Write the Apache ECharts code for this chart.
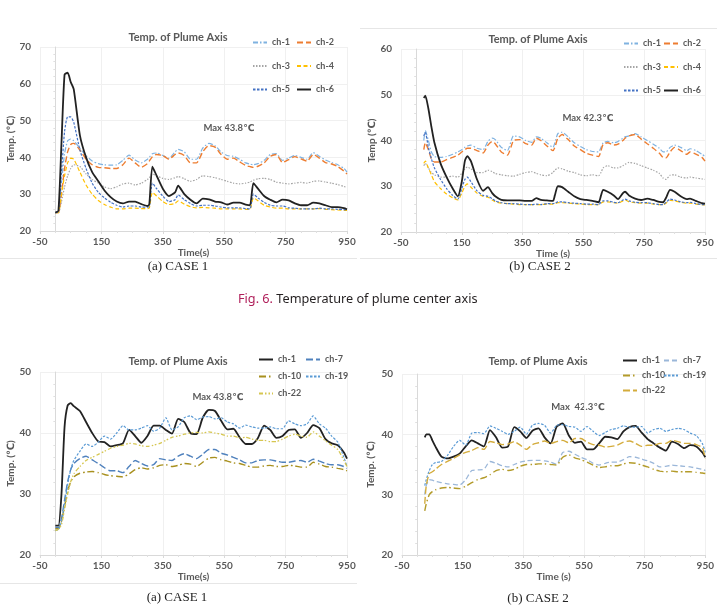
<!DOCTYPE html>
<html><head><meta charset="utf-8">
<script src="https://cdn.jsdelivr.net/npm/echarts@6/dist/echarts.min.js"></script>
<style>
html,body{margin:0;padding:0;background:#fff;}
#wrap{position:relative;width:717px;height:614px;overflow:hidden;background:#fff;}
.layer{position:absolute;left:0;top:0;width:717px;height:614px;}
.cap{position:absolute;font-family:'Liberation Serif','Times New Roman',serif;font-size:13px;color:#222;white-space:nowrap;transform:translate(-50%,-50%);}
.fig{position:absolute;font-family:'Noto Sans',sans-serif;font-size:12.7px;color:#231f20;white-space:nowrap;transform:translateY(-50%);}
.fig span{color:#b01f5a;}
.hl{position:absolute;height:1px;background:#e6e6e6;}
</style></head>
<body>
<div id="wrap">
  <div class="hl" style="left:360px;top:28px;width:357px;"></div>
  <div class="hl" style="left:0px;top:258px;width:357px;"></div>
  <div class="hl" style="left:360px;top:258px;width:357px;"></div>
  <div class="hl" style="left:0px;top:583px;width:357px;"></div>
  <div id="c1" class="layer"></div>
  <div id="c2" class="layer"></div>
  <div id="c3" class="layer"></div>
  <div id="c4" class="layer"></div>
  <div class="cap" style="left:178px;top:266px;">(a) CASE 1</div>
  <div class="cap" style="left:540px;top:266px;">(b) CASE 2</div>
  <div class="fig" style="left:238px;top:298px;"><span>Fig. 6.</span> Temperature of plume center axis</div>
  <div class="cap" style="left:177px;top:597px;">(a) CASE 1</div>
  <div class="cap" style="left:538px;top:598px;">(b) CASE 2</div>
</div>
<script>
// ---------- Chart (a) CASE 1, top ----------
const times1 = [0,10,20,30,40,50,60,80,100,120,140,160,180,200,220,240,260,280,300,306,316,330,350,370,390,400,420,440,460,480,500,520,540,560,580,600,620,634,645,660,680,700,720,740,760,780,800,820,840,860,880,900,920,940,950];
const a1_ch1 = [25,25.3,33,41,44.5,45,44.5,42.5,40.5,39,38.3,38,37.9,38,39.2,40.6,39.3,38.5,39.5,40,41,41.2,40.5,39.8,41.5,42.2,41.5,39.5,39.5,42.5,43.8,43.2,41.5,40.5,40.3,39.5,38.5,38.2,38,38.3,39.2,40.8,41,39.2,39.8,40.5,40,39.5,41.3,40.3,39.3,38.6,38,37,36];
const a1_ch2 = [25,25,30,37,41.5,43.5,43.8,42,39.5,38,37.3,37.2,37,37,38,39.8,38.5,37.3,38.3,39,40.2,40.8,40.5,39.5,40.8,41.2,40.5,38.5,38.5,41.5,43.2,42.8,40.8,39.5,39.8,38.8,37.8,37.5,37.3,37.6,38.5,40.3,40.8,38.6,39.4,40.2,39.6,39,40.8,39.8,38.6,38.2,37.5,36.3,35.5];
const a1_ch3 = [25,25,28,32,35,37,38,37.5,35.5,34,33,32,31.5,32,32.8,33,32.5,33,34,34.5,35.5,35,34.3,34,34.5,34.8,34.2,33.5,34,35,34.8,34.5,34,33.5,33,32.8,33,33.3,33.8,34.2,34.3,34,33.3,33,32.8,33,33.2,33,33.5,33.6,33.3,33,32.6,32.1,31.8];
const a1_ch4 = [25,25,30,35,38.5,39.8,39.5,36,32.5,30,28.3,27.2,26.5,26,26,26.2,26.2,26.1,26.1,26.2,30.5,29.5,28,27.2,27.5,28.2,27.3,26.6,26.3,26.4,26.3,26.2,26,26,26,26,25.9,25.9,29,28.2,27,26.5,26.2,26.2,26,26,26,26,26,26.1,25.9,25.8,25.7,25.6,25.6];
const a1_ch5 = [25,25.2,36,47,51,51,49.5,42,37,33,30.5,29,27.8,27,26.5,26.8,26.8,26.5,26.5,26.6,33,31.5,29.5,28,28.5,29.8,28.5,27.5,26.8,27,27,26.8,26.5,26.3,26.3,26.3,26.1,26,30,29,27.8,27,26.8,26.8,26.3,26.2,26,26,26,26.2,26,26,25.9,25.8,25.7];
const a1_ch6 = [25,25.5,44,62.5,63,60.5,58.5,46,40,36,33.5,31,29.2,28,27.5,28,28,27.3,26.8,27.2,37.5,35,31.5,29.5,30.5,32.3,30,28.5,27.5,28.8,28.6,28,27.8,27.2,27.7,27.7,27.2,27,33,31.5,29.5,28.5,27.8,28.5,28.3,27.5,27,27,27.7,27.5,27,26.5,26.5,26.2,25.9];

// ---------- Chart (b) CASE 2, top ----------
const times2 = [25,30,40,50,60,80,100,120,137,150,160,168,180,200,220,236,250,260,280,300,320,340,360,380,395,410,430,450,456,466,480,500,520,540,560,580,600,608,615,630,650,664,680,687,700,720,740,760,780,800,812,822,835,850,870,890,901,920,940,950];
const b1_ch1 = [40,42.2,40,37.5,36.5,36.3,36.5,37,37.5,38,38.5,38.8,39,38.3,38,39.8,40.5,40.2,38.5,37.8,41,40.8,40,39.6,40.8,40.5,39.5,38.5,39.5,41.5,41.8,40.8,39.5,38.7,38,37.6,37.5,38.5,39.5,39.8,39.5,39.8,40.5,40.8,41,41.5,40.8,40,39.2,38.3,37.5,37.5,38.5,39,38.5,37.8,38.2,37.8,37,36.5];
const b1_ch2 = [38,39.5,38,36,35.3,35.3,35.8,36.3,36.8,37.5,38,38.3,38.3,37.8,37.3,39,39.8,39.3,37.5,36.8,40,40.2,39.3,39,40.5,40,38.8,37.8,38.5,40.5,41.3,40.2,38.8,38,37.2,36.8,36.5,37.8,39.2,39.5,39,39.2,40,40.5,41,41.3,40.3,39.3,38.3,37.2,36.3,36.2,37.5,38.5,37.8,37,37.5,37,36.3,35.5];
const b1_ch3 = [34.5,35,34,33,32.5,32,32,32.2,32,32.8,33.8,34.2,33.8,33,33,33.5,33.2,32.8,32.5,32.3,32.2,32.6,33,33.2,32.8,32.5,32.3,33,33.5,34,33.8,33.3,33,32.5,32.3,32.5,32.3,33,34,34.5,34,34,34.5,34.8,35.2,35,34.5,34,33.5,32.8,31.8,31.5,32.4,32.5,32,31.8,32,31.8,31.6,31.5];
const b1_ch4 = [35,35.5,34,32.5,31,29.5,28.3,27.5,27,28.5,30,30.5,29.8,28.5,27.8,27.6,27,26.6,26.3,26.2,26.1,26,26,26,26,26,26.1,26.1,26.2,26.4,26.4,26.3,26.2,26.1,26,26,26,26.3,26.6,26.6,26.4,26.3,26.8,27,26.6,26.4,26.3,26.3,26.1,26,26,26.3,26.9,26.8,26.5,26.3,26.3,26.1,26,25.9];
const b1_ch5 = [41,41.8,38.5,36,34,31.5,29.5,28,27.2,29.5,31.5,32,31,29,28,27.8,27.3,26.8,26.4,26.2,26.2,26.1,26,26,26.1,26,26.2,26.2,26.3,26.6,26.6,26.4,26.3,26.2,26.1,26.1,26,26.5,26.8,26.8,26.5,26.4,27,27.2,26.8,26.5,26.4,26.4,26.2,26,26,26.5,27.2,27,26.6,26.4,26.5,26.2,26,26];
const b1_ch6 = [49.3,49.8,47,43,39.5,35,32,29.5,27.8,31,35.5,36.6,35.5,31.5,29,29.8,28.5,27.8,27,26.9,26.9,26.9,26.8,26.8,27.4,27,26.9,26.8,28,30,29.8,28.8,27.8,27.2,27,26.8,26.5,28,29.2,28.8,28,27.2,28.5,28.8,28,27.3,27,27.3,27,26.6,26.5,27.5,29.2,28.8,27.8,27.2,27.3,26.8,26.3,26.2];

// ---------- Chart (a) CASE 1, bottom ----------
const times3 = [0,10,20,30,40,50,60,80,100,120,140,160,180,200,220,240,260,280,300,320,340,360,380,400,420,440,460,480,500,520,540,560,580,600,620,640,660,680,700,720,740,760,780,800,820,840,860,880,900,920,940,950];
const a2_ch1 = [24.8,24.8,30,41,44.5,44.9,44.4,43.6,41.8,40,38.6,38.5,37.8,38,38.3,40.5,39.5,38.4,39.5,41.2,41.2,40.5,39.9,42.3,41.8,40,39.8,42.5,43.8,43.6,42,40.6,40.7,39.3,38.2,38.2,39.2,41.2,40.5,39.2,39.5,40.5,40.6,39.2,40,41.3,40.8,39,38.3,38,36.8,35.8];
const a2_ch7 = [24.5,24.5,26,29,32,34,35,35.8,36.2,35.6,35,34.3,33.8,33.8,33.5,34.5,35.5,35,34.6,34.8,35.8,35.6,35.5,36.2,36.6,36.2,35.8,36.5,37.3,37.3,36.7,36.4,36,35.6,35.1,35.1,35.5,35.6,35.6,35.4,35.2,35.2,35.4,35.5,35.2,35.7,35.4,35,34.8,34.8,34.5,34.2];
const a2_ch10 = [24.3,24.3,25.5,28,30.5,32,32.8,33.4,33.6,33.7,33.5,33.2,33,32.9,32.8,33.3,34,34.3,34.1,34.3,34.7,34.8,34.5,34.7,35,34.9,34.5,35.2,35.9,36,35.6,35.4,35.1,35,34.7,34.4,34.4,34.6,34.7,34.5,34.5,34.7,34.6,34.4,34.4,35.2,34.9,34.5,34.4,34.2,34,33.8];
const a2_ch19 = [24,24.2,25.5,28.5,31.5,34,35.5,37,38.2,37.8,38.5,39.5,39,40,41.2,40.5,40.5,40.8,41.2,40.3,40.8,42.5,40.5,41,42.5,42.8,42.2,42.6,42.7,42.3,42.5,41.8,41.5,40.8,41.3,41,40.8,40.8,41,40.7,40.7,42,41.5,41.2,41.5,42.8,41.5,40.8,39.5,38.5,36,34.5];
const a2_ch22 = [24,24.2,25,27.5,30,32,33.3,34.5,35.5,36,36.5,37,37.5,37.8,38,38.3,38.2,37.9,37.8,38,38.3,38.8,39.3,39.5,39.8,40,40.1,40,40.2,40,39.8,39.5,39.5,39.2,39.3,39,38.8,38.8,38.6,38.6,39,39.5,39.8,39.5,39.3,40.2,39.5,38.7,38,37.3,35.5,34.5];

// ---------- Chart (b) CASE 2, bottom ----------
const times4 = [25,30,40,50,60,80,100,120,140,160,180,200,220,240,260,280,300,320,340,360,380,400,420,440,460,480,500,520,540,560,580,600,620,640,660,680,700,720,740,760,780,800,820,840,860,880,900,920,940,950];
const b2_ch1 = [39.5,40,40,39,38,36.3,36,36.3,36.8,38,39,38.5,38,40.7,39.5,37.8,38,41.2,40.5,39.4,40.6,41,39.5,38.5,41.3,41.8,39.8,38.6,38.8,37.5,37.5,38.5,39.6,39.5,39.2,40.5,41.2,41.4,40.3,39.2,38.5,37.8,37.3,38.8,38.4,37.7,38.2,38,37,36.2];
const b2_ch7 = [30,31.5,32.5,32.4,32.2,32,31.8,31.7,31.6,32.5,34,34.1,34.2,35.5,35.2,34.8,34.6,35,35.4,35.6,35.7,35.7,35.6,35.4,35,37,37.2,36.7,36.2,35.8,35.2,34.9,35.2,35.4,35.4,35.8,36.3,36.2,35.9,35.6,35.2,34.6,34.7,34.9,34.8,34.7,34.6,34.4,34.2,34];
const b2_ch10 = [27.3,28.5,30,30.5,30.8,31.1,31.2,31.1,31,31.4,32,32.5,32.8,33.3,34,34.2,34,34.2,34.7,35,35,35.1,35.1,35,34.9,36.2,36.6,36.1,35.8,35.4,34.9,34.5,34.6,34.8,34.8,35.1,35.3,35.2,34.9,34.6,34.2,33.9,33.8,33.9,33.8,33.8,33.8,33.7,33.6,33.5];
const b2_ch19 = [31.5,32.5,34,35,35.3,35.5,36.5,38,39,38.2,40.2,40.3,40.1,41.4,41,40.5,40,40.5,41.2,40,41.5,41.8,41.5,40.2,41.5,41.6,41.3,41.2,40.5,41.3,40.5,39.8,40.3,40.8,41,41.4,41.2,41.2,41.3,40.2,40.8,41,40.5,40.8,41,40.8,40.2,39.8,38.5,37];
const b2_ch22 = [28.5,31.5,33.5,33.8,34.2,35,35.5,36,36.6,37,37.3,37.8,37.5,38.8,38.6,38.3,38.4,38.8,38.2,37.5,38.3,38.6,38.9,38.5,38.8,39,38.6,39.3,39.3,38.7,38.3,38.2,37.9,38,38.2,38.7,38.9,38.5,38,38.2,38.2,38.5,38.5,39,38.8,38.5,38.5,38.3,37.8,36];

// ---------- Axis ticks ----------
const xTicks = {min: -50, max: 950, interval: 200};
const yTicksTop1 = {min: 20, max: 70, interval: 10};
const yTicksTop2 = {min: 20, max: 60, interval: 10};
const yTicksBottom = {min: 20, max: 50, interval: 10};

// ---------- helpers ----------
const FONT = 'Lato, "Open Sans", "DejaVu Sans", sans-serif';
const GRAY = '#595959';
function pairs(times, vals) { return times.map((t, i) => [t, vals[i]]); }
function xAxis(name, nameGap) {
  return {type: 'value', min: xTicks.min, max: xTicks.max, interval: xTicks.interval,
    name: name, nameLocation: 'middle', nameGap: nameGap,
    nameTextStyle: {fontFamily: FONT, fontSize: 10, fontWeight: 'bold', color: GRAY},
    axisLine: {show: true, lineStyle: {color: '#d9d9d9'}},
    axisTick: {show: true, length: 3, lineStyle: {color: '#d9d9d9'}},
    minorTick: {show: true, splitNumber: 4, length: 2, lineStyle: {color: '#e0e0e0'}},
    splitLine: {show: true, lineStyle: {color: '#f0f0f0'}},
    axisLabel: {fontFamily: FONT, fontSize: 10, fontWeight: 'bold', color: GRAY, margin: 6}};
}
function yAxis(t, name, nameGap) {
  return {type: 'value', min: t.min, max: t.max, interval: t.interval,
    name: name, nameLocation: 'middle', nameGap: nameGap,
    nameTextStyle: {fontFamily: FONT, fontSize: 10, fontWeight: 'bold', color: GRAY},
    axisLine: {show: true, lineStyle: {color: '#d9d9d9'}},
    axisTick: {show: false},
    minorTick: {show: true, splitNumber: 5, length: 2, lineStyle: {color: '#e0e0e0'}},
    splitLine: {show: true, lineStyle: {color: '#f0f0f0'}},
    axisLabel: {fontFamily: FONT, fontSize: 10, fontWeight: 'bold', color: GRAY, margin: 9}};
}
function ser(name, data, color, type, width) {
  return {name: name, type: 'line', data: data, symbol: 'none', showSymbol: false,
    smooth: 0.2, lineStyle: {color: color, width: width, type: type}, itemStyle: {color: color},
    animation: false};
}
function legend(names, left, top, gap) {
  return {data: names, left: left, top: top, orient: 'vertical', itemWidth: 14, itemHeight: 10,
    itemGap: gap, padding: 0, selectedMode: false,
    itemStyle: {opacity: 0, borderWidth: 0},
    textStyle: {fontFamily: FONT, fontSize: 9, fontWeight: 'bold', color: GRAY}};
}
function txt(text, x, y, size) {
  return {type: 'text', x: x, y: y, silent: true,
    style: {text: text, font: 'bold ' + size + 'px ' + FONT, fill: GRAY,
      align: 'center', verticalAlign: 'middle', textAlign: 'center', textVerticalAlign: 'middle'}};
}

const DASHDOT = [5, 2, 1.5, 2];
const LONG = [6, 3];
const DOT = [1.5, 1.5];
const DASH = [4, 2.5];
const SHORT = [2.5, 1.5];

const opt1 = {
  animation: false,
  grid: {left: 40, top: 47, width: 307, height: 184},
  xAxis: xAxis('Time(s)', 16),
  yAxis: yAxis(yTicksTop1, 'Temp. (℃)', 22),
  legend: [legend(['ch-1', 'ch-3', 'ch-5'], 252, 38, 14.5), legend(['ch-2', 'ch-4', 'ch-6'], 296, 38, 14.5)],
  graphic: [txt('Temp. of Plume Axis', 178, 37, 11), txt('Max 43.8℃', 229, 128, 9.5)],
  series: [
    ser('ch-1', pairs(times1, a1_ch1), '#7fb2e0', DASHDOT, 1.2),
    ser('ch-2', pairs(times1, a1_ch2), '#ed7d31', LONG, 1.4),
    ser('ch-3', pairs(times1, a1_ch3), '#a5a5a5', DOT, 1.2),
    ser('ch-4', pairs(times1, a1_ch4), '#ffc000', DASH, 1.2),
    ser('ch-5', pairs(times1, a1_ch5), '#4472c4', SHORT, 1.2),
    ser('ch-6', pairs(times1, a1_ch6), '#222222', 'solid', 1.8)
  ]
};
const opt2 = {
  animation: false,
  grid: {left: 401, top: 49, width: 304, height: 183},
  xAxis: xAxis('Time (s)', 16),
  yAxis: yAxis(yTicksTop2, 'Temp (℃)', 23),
  legend: [legend(['ch-1', 'ch-3', 'ch-5'], 623, 39, 14.5), legend(['ch-2', 'ch-4', 'ch-6'], 663, 39, 14.5)],
  graphic: [txt('Temp. of Plume Axis', 538, 39, 11), txt('Max 42.3℃', 588, 118, 9.5)],
  series: [
    ser('ch-1', pairs(times2, b1_ch1), '#7fb2e0', DASHDOT, 1.2),
    ser('ch-2', pairs(times2, b1_ch2), '#ed7d31', LONG, 1.4),
    ser('ch-3', pairs(times2, b1_ch3), '#a5a5a5', DOT, 1.2),
    ser('ch-4', pairs(times2, b1_ch4), '#ffc000', DASH, 1.2),
    ser('ch-5', pairs(times2, b1_ch5), '#4472c4', SHORT, 1.2),
    ser('ch-6', pairs(times2, b1_ch6), '#222222', 'solid', 1.8)
  ]
};
const opt3 = {
  animation: false,
  grid: {left: 40, top: 372, width: 307, height: 183},
  xAxis: xAxis('Time(s)', 16),
  yAxis: yAxis(yTicksBottom, 'Temp. (℃)', 23),
  legend: [legend(['ch-1', 'ch-10', 'ch-22'], 258, 355, 8), legend(['ch-7', 'ch-19'], 305, 355, 8)],
  graphic: [txt('Temp. of Plume Axis', 178, 361, 11), txt('Max 43.8℃', 218, 397, 9.5)],
  series: [
    ser('ch-1', pairs(times3, a2_ch1), '#222222', 'solid', 1.8),
    ser('ch-7', pairs(times3, a2_ch7), '#4f81bd', [7, 3], 1.4),
    ser('ch-10', pairs(times3, a2_ch10), '#a8901e', [7, 3, 1.5, 3], 1.4),
    ser('ch-19', pairs(times3, a2_ch19), '#5b9bd5', SHORT, 1.2),
    ser('ch-22', pairs(times3, a2_ch22), '#d6c650', [4, 2, 1.5, 2, 1.5, 2], 1.3)
  ]
};
const opt4 = {
  animation: false,
  grid: {left: 402, top: 374, width: 305, height: 181},
  xAxis: xAxis('Time (s)', 17),
  yAxis: yAxis(yTicksBottom, 'Temp. (℃)', 26),
  legend: [legend(['ch-1', 'ch-10', 'ch-22'], 622, 356, 6), legend(['ch-7', 'ch-19'], 663, 356, 6)],
  graphic: [txt('Temp. of Plume Axis', 538, 361, 11), txt('Max  42.3℃', 578, 407, 9.5)],
  series: [
    ser('ch-1', pairs(times4, b2_ch1), '#222222', 'solid', 1.8),
    ser('ch-7', pairs(times4, b2_ch7), '#9bb7d9', [5, 3], 1.3),
    ser('ch-10', pairs(times4, b2_ch10), '#b39b2a', [7, 3, 1.5, 3], 1.4),
    ser('ch-19', pairs(times4, b2_ch19), '#5b9bd5', SHORT, 1.2),
    ser('ch-22', pairs(times4, b2_ch22), '#d4ac3c', [7, 3], 1.4)
  ]
};
[['c1', opt1], ['c2', opt2], ['c3', opt3], ['c4', opt4]].forEach(([id, o]) => {
  const ch = echarts.init(document.getElementById(id), null, {renderer: 'canvas'});
  ch.setOption(o);
});
</script>
</body></html>
